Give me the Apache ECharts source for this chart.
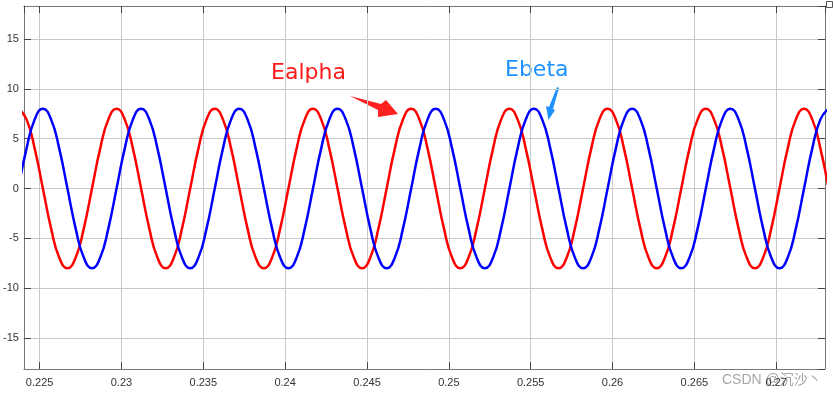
<!DOCTYPE html>
<html>
<head>
<meta charset="utf-8">
<script src="https://cdn.jsdelivr.net/npm/echarts@6/dist/echarts.min.js"></script>
<style>html,body{margin:0;padding:0;background:#fff}#c{width:833px;height:394px}</style>
</head>
<body>
<div id="c"></div>
<script>
// Time samples (s)
const times = [
  0.2237,0.2242,0.2247,0.2252,0.2257,0.2262,0.2267,0.2272,0.2277,0.2282,0.2287,0.2292,
  0.2297,0.2302,0.2307,0.2312,0.2317,0.2322,0.2327,0.2332,0.2337,0.2342,0.2347,0.2352,
  0.2357,0.2362,0.2367,0.2372,0.2377,0.2382,0.2387,0.2392,0.2397,0.2402,0.2407,0.2412,
  0.2417,0.2422,0.2427,0.2432,0.2437,0.2442,0.2447,0.2452,0.2457,0.2462,0.2467,0.2472,
  0.2477,0.2482,0.2487,0.2492,0.2497,0.2502,0.2507,0.2512,0.2517,0.2522,0.2527,0.2532,
  0.2537,0.2542,0.2547,0.2552,0.2557,0.2562,0.2567,0.2572,0.2577,0.2582,0.2587,0.2592,
  0.2597,0.2602,0.2607,0.2612,0.2617,0.2622,0.2627,0.2632,0.2637,0.2642,0.2647,0.2652,
  0.2657,0.2662,0.2667,0.2672,0.2677,0.2682,0.2687,0.2692,0.2697,0.2702,0.2707,0.2712,
  0.2717,0.2722,0.2727,0.2732
];
// Ealpha values (red)
const ealpha = [
  8,6.93,4,0,-4,-6.93,-8,-6.93,-4,0,4,6.93,
  8,6.93,4,0,-4,-6.93,-8,-6.93,-4,0,4,6.93,
  8,6.93,4,0,-4,-6.93,-8,-6.93,-4,0,4,6.93,
  8,6.93,4,0,-4,-6.93,-8,-6.93,-4,0,4,6.93,
  8,6.93,4,0,-4,-6.93,-8,-6.93,-4,0,4,6.93,
  8,6.93,4,0,-4,-6.93,-8,-6.93,-4,0,4,6.93,
  8,6.93,4,0,-4,-6.93,-8,-6.93,-4,0,4,6.93,
  8,6.93,4,0,-4,-6.93,-8,-6.93,-4,0,4,6.93,
  8,6.93,4,0
];
// Ebeta values (blue)
const ebeta = [
  0,4,6.93,8,6.93,4,0,-4,-6.93,-8,-6.93,-4,
  0,4,6.93,8,6.93,4,0,-4,-6.93,-8,-6.93,-4,
  0,4,6.93,8,6.93,4,0,-4,-6.93,-8,-6.93,-4,
  0,4,6.93,8,6.93,4,0,-4,-6.93,-8,-6.93,-4,
  0,4,6.93,8,6.93,4,0,-4,-6.93,-8,-6.93,-4,
  0,4,6.93,8,6.93,4,0,-4,-6.93,-8,-6.93,-4,
  0,4,6.93,8,6.93,4,0,-4,-6.93,-8,-6.93,-4,
  0,4,6.93,8,6.93,4,0,-4,-6.93,-8,-6.93,-4,
  0,4,6.93,8
];
const xMin = 0.22404, xMax = 0.27298;
const yMin = -18.1, yMax = 18.3;
const seriesNames = ['Ealpha', 'Ebeta'];

const chart = echarts.init(document.getElementById('c'), null, {renderer: 'canvas'});
const labelStyle = {color: '#333', fontSize: 11, fontFamily: 'Liberation Sans, Arial, sans-serif'};
const baseX = {
  type: 'value', min: xMin, max: xMax, splitNumber: 10,
  axisLine: {show: true, onZero: false, lineStyle: {color: '#777', width: 1}},
  axisTick: {show: true, inside: true, length: 7, lineStyle: {color: '#444'}},
};
const baseY = {
  type: 'value', min: yMin, max: yMax, splitNumber: 7,
  axisLine: {show: true, onZero: false, lineStyle: {color: '#777', width: 1}},
  axisTick: {show: true, inside: true, length: 7, lineStyle: {color: '#444'}},
};
chart.setOption({
  animation: false,
  backgroundColor: '#fff',
  grid: {left: 21, top: 6, right: 8, bottom: 25, containLabel: false},
  xAxis: [
    Object.assign({}, baseX, {
      position: 'bottom',
      axisLabel: Object.assign({}, labelStyle, {margin: 8, showMinLabel: false, showMaxLabel: false}),
      splitLine: {show: true, lineStyle: {color: '#c8c8c8', width: 1}}
    }),
    Object.assign({}, baseX, {
      position: 'top',
      axisLabel: {show: false},
      splitLine: {show: false}
    })
  ],
  yAxis: [
    Object.assign({}, baseY, {
      position: 'left',
      axisLabel: Object.assign({}, labelStyle, {margin: 5, showMinLabel: false, showMaxLabel: false}),
      splitLine: {show: true, lineStyle: {color: '#c8c8c8', width: 1}}
    }),
    Object.assign({}, baseY, {
      position: 'right',
      axisLabel: {show: false},
      splitLine: {show: false}
    })
  ],
  series: [
    {
      name: seriesNames[0], type: 'line', showSymbol: false, smooth: true, clip: true,
      data: times.map((t, i) => [t, ealpha[i]]),
      lineStyle: {color: '#ff0000', width: 2.5}, itemStyle: {color: '#ff0000'}
    },
    {
      name: seriesNames[1], type: 'line', showSymbol: false, smooth: true, clip: true,
      data: times.map((t, i) => [t, ebeta[i]]),
      lineStyle: {color: '#0000ff', width: 2.5}, itemStyle: {color: '#0000ff'}
    }
  ],
  graphic: [
    {type: 'text', left: 271, top: 62, style: {text: 'Ealpha', fill: '#ff1a1a', fontSize: 22, fontFamily: 'DejaVu Sans'}},
    {type: 'text', left: 505, top: 59, style: {text: 'Ebeta', fill: '#1e90ff', fontSize: 22, fontFamily: 'DejaVu Sans'}},
    {type: 'polygon', shape: {points: [[350,96],[381,104],[386,100],[398,114],[378,117],[378,110]]}, style: {fill: '#ff2020'}},
    {type: 'polygon', shape: {points: [[557,87],[559,88],[553,109],[555,110],[548.5,120],[546,106],[549,107]]}, style: {fill: '#1e90ff'}},
    {type: 'text', left: 722, top: 373, style: {text: 'CSDN @沉沙丶', fill: 'rgba(150,150,150,0.85)', fontSize: 14, fontFamily: 'Liberation Sans, Noto Sans CJK SC, sans-serif'}},
    {type: 'rect', shape: {x: 826.5, y: 1.5, width: 6, height: 6}, style: {fill: '#fff', stroke: '#555', lineWidth: 1}}
  ]
});
</script>
</body>
</html>
